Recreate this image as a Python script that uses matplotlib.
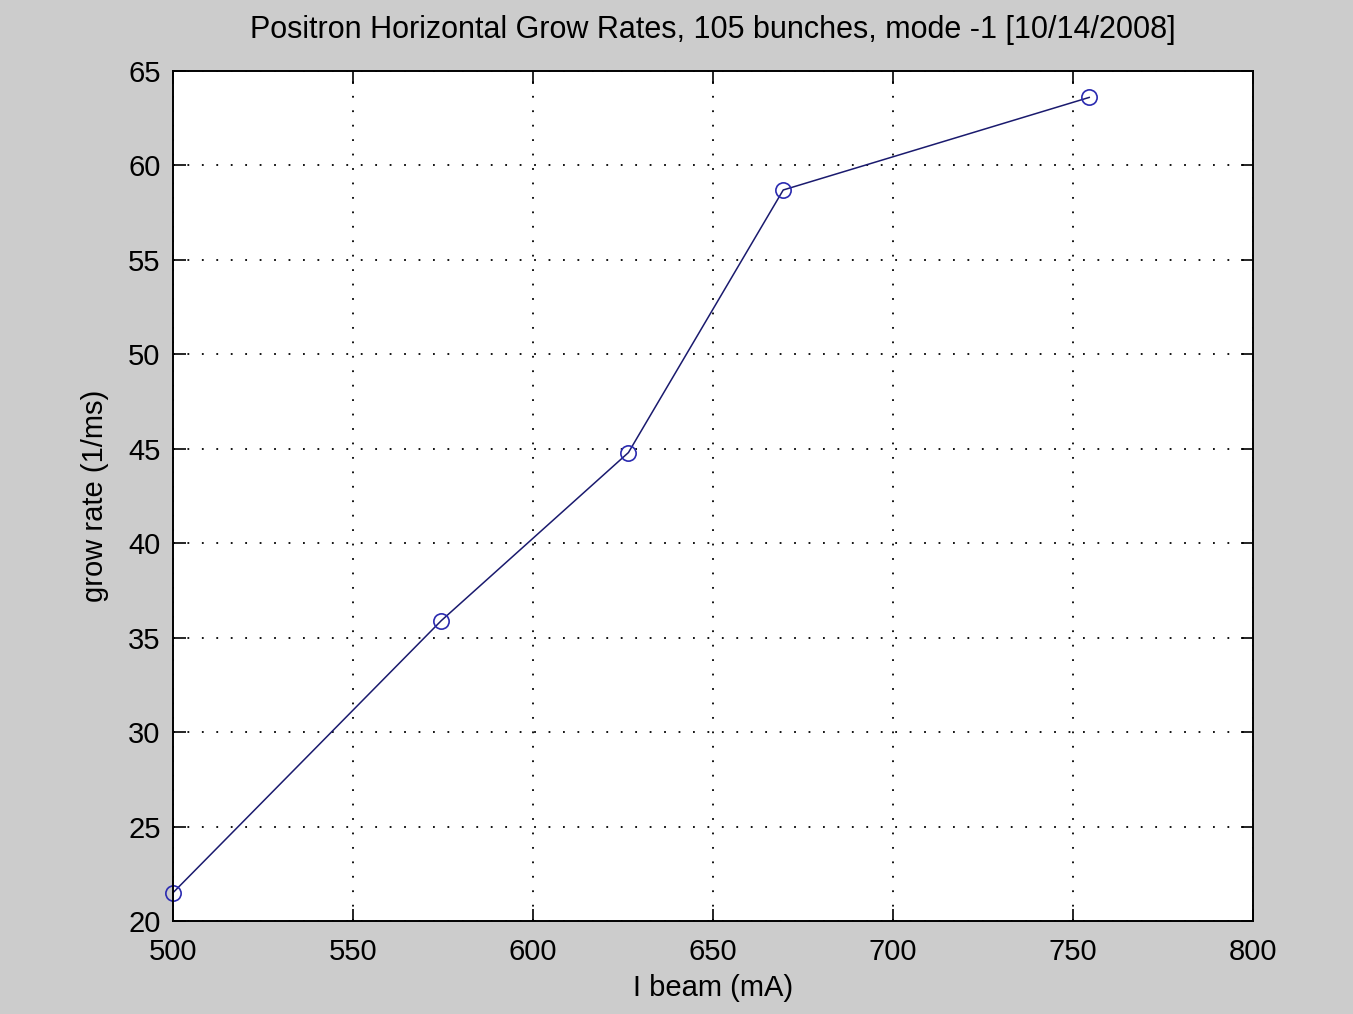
"""Positron horizontal grow rate vs beam current."""

import matplotlib
import matplotlib.pyplot as plt

matplotlib.use("Agg")

# ── Data ─────────────────────────────────────────────────────────────────────

I_BEAM = [500, 574.5, 626.5, 669.5, 754.5]   # mA
GROW_RATE = [21.5, 35.9, 44.8, 58.7, 63.6]   # 1/ms

X_TICKS = [500, 550, 600, 650, 700, 750, 800]
Y_TICKS = [20, 25, 30, 35, 40, 45, 50, 55, 60, 65]

plt.rcParams["font.family"] = ["Liberation Sans", "DejaVu Sans"]

fig = plt.figure(figsize=(13.53, 10.14), dpi=100, facecolor="#cccccc")
ax = fig.add_axes([0.1279, 0.0917, 0.7982, 0.8383])
ax.set_facecolor("white")

ax.plot(I_BEAM, GROW_RATE, color="#1a1a6e", linewidth=1.1,
        marker="o", markersize=11, markerfacecolor="none",
        markeredgecolor="#2a2ab0", markeredgewidth=1.2, clip_on=False)

ax.set_xlim(500, 800)
ax.set_ylim(20, 65)
ax.set_xticks(X_TICKS)
ax.set_yticks(Y_TICKS)
ax.tick_params(direction="in", length=9, width=1.2, labelsize=21,
               top=True, right=True)
ax.tick_params(axis="x", pad=12)
ax.tick_params(axis="y", pad=9)
ax.grid(True, linestyle=(0, (1, 7)), color="black", linewidth=1.3)
for s in ax.spines.values():
    s.set_linewidth(1.4)

ax.set_xlabel("I beam (mA)", fontsize=21, labelpad=6)
ax.set_ylabel("grow rate (1/ms)", fontsize=21, labelpad=14)
ax.set_title("Positron Horizontal Grow Rates, 105 bunches, mode -1 [10/14/2008]",
             fontsize=22, pad=24)

fig.savefig("out.png", dpi=100, facecolor=fig.get_facecolor())
